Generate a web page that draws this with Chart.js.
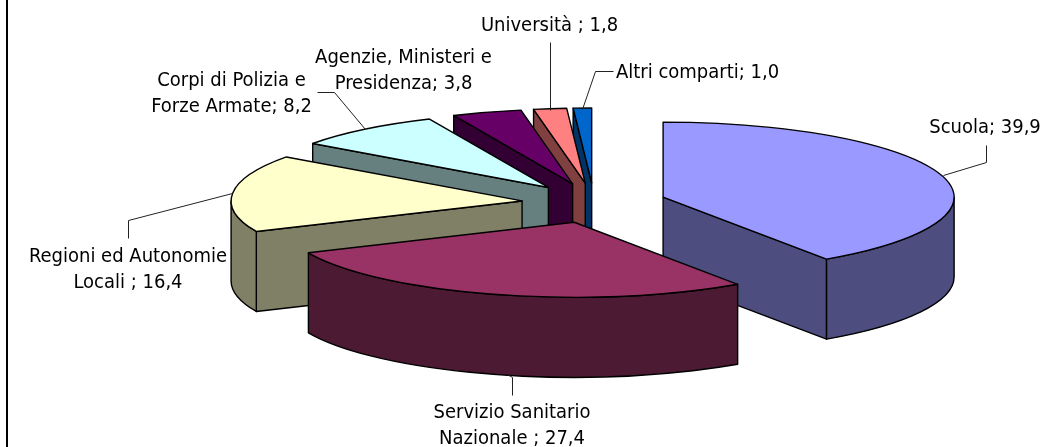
<!DOCTYPE html>
<html><head><meta charset="utf-8">
<style>html,body{margin:0;padding:0;background:#fff;overflow:hidden}#w{position:relative;width:1042px;height:447px}canvas{display:block}</style>
<script src="https://cdn.jsdelivr.net/npm/chart.js@4"></script>
</head><body><div id="w"><canvas id="c" width="1042" height="447"></canvas></div>
<script>
const categories = ['Scuola','Servizio Sanitario Nazionale','Regioni ed Autonomie Locali','Corpi di Polizia e Forze Armate','Agenzie, Ministeri e Presidenza','Università','Altri comparti'];
const values = [39.9,27.4,16.4,8.2,3.8,1.8,1.0];
const topColors = ['#9999FF','#993366','#FFFFCC','#CCFFFF','#660066','#FF8080','#0066CC'];
const wallColors = ['#4D4D80','#4D1A33','#808066','#668080','#330033','#804040','#003366'];
const drawOrder = [6,5,4,3,2,0,1];
const labelLines = [['Scuola; 39,9'],['Servizio Sanitario','Nazionale ; 27,4'],['Regioni ed Autonomie','Locali ; 16,4'],['Corpi di Polizia e','Forze Armate; 8,2'],['Agenzie, Ministeri e','Presidenza; 3,8'],['Università ; 1,8'],['Altri comparti; 1,0']];
const labelAnchors = [[985,128],[512,413],[128,257],[231.5,81],[403.5,58],[549.5,26],[697.5,73]];
const leaders = [[[986,145],[986,162],[943,175]],[[512,395],[512,377],[507,374]],[[128,238],[128,220],[232,193]],[[317,92],[334,92],[365,129]],[],[[550,42],[550,110]],[[613,71],[595,71],[582,109]]];
const view = {cx:594,cy:203,a:291,b:75,ex:72.3,ey:20,depth:80,lineH:26,font:'20px "DejaVu Sans Condensed"'};

const pie3d = {
  id:'pie3d',
  beforeDatasetDraw(chart){
    const ctx = chart.ctx, els = chart.getDatasetMeta(0).data;
    ctx.save();
    ctx.strokeStyle='#000'; ctx.lineWidth=1.4; ctx.lineJoin='round';
    const pt=(c,ang)=>[c.x+view.a*Math.cos(ang),c.y+view.b*Math.sin(ang)];
    drawOrder.forEach(i=>{
      const el=els[i], s=el.startAngle, e=el.endAngle, mid=(s+e)/2;
      const c={x:view.cx+view.ex*Math.cos(mid),y:view.cy+view.ey*Math.sin(mid)};
      const d=view.depth;
      const face=(ang)=>{const p=pt(c,ang);
        ctx.beginPath();ctx.moveTo(c.x,c.y);ctx.lineTo(p[0],p[1]);ctx.lineTo(p[0],p[1]+d);ctx.lineTo(c.x,c.y+d);ctx.closePath();
        ctx.fillStyle=wallColors[i];ctx.fill();ctx.stroke();};
      if(Math.cos(s)<-1e-6) face(s);
      if(Math.cos(e)>1e-6) face(e);
      const a0=Math.max(s,0), a1=Math.min(e,Math.PI);
      if(a1>a0){
        ctx.beginPath();
        ctx.ellipse(c.x,c.y,view.a,view.b,0,a0,a1);
        ctx.ellipse(c.x,c.y+d,view.a,view.b,0,a1,a0,true);
        ctx.closePath();ctx.fillStyle=wallColors[i];ctx.fill();ctx.stroke();
      }
      ctx.save();
      ctx.translate(c.x,c.y);ctx.scale(view.a/el.outerRadius,view.b/el.outerRadius);ctx.translate(-el.x,-el.y);
      el.draw(ctx);
      ctx.beginPath();ctx.moveTo(el.x,el.y);ctx.arc(el.x,el.y,el.outerRadius,s,e);ctx.closePath();
      ctx.restore();
      ctx.stroke();
    });
    ctx.save();ctx.translate(0.5,0.5);
    ctx.strokeStyle='#222';ctx.lineWidth=1;
    leaders.forEach(l=>{if(!l.length)return;ctx.beginPath();l.forEach((p,k)=>k?ctx.lineTo(p[0],p[1]):ctx.moveTo(p[0],p[1]));ctx.stroke();});
    ctx.restore();
    ctx.fillStyle='#000';ctx.font=view.font;ctx.textAlign='center';ctx.textBaseline='middle';
    labelLines.forEach((ls,i)=>ls.forEach((t,k)=>ctx.fillText(t,labelAnchors[i][0],labelAnchors[i][1]+k*view.lineH)));
    ctx.fillStyle='#000';ctx.fillRect(6,0,2,447);
    ctx.restore();
    return false;
  }
};
new Chart(document.getElementById('c'),{
  type:'pie',
  data:{labels:categories,datasets:[{data:values,backgroundColor:topColors,borderWidth:0,hoverOffset:0,offset:0}]},
  options:{responsive:false,animation:false,rotation:0,events:[],layout:{padding:0},plugins:{legend:{display:false},tooltip:{enabled:false},title:{display:false}}},
  plugins:[pie3d]
});
</script></body></html>
